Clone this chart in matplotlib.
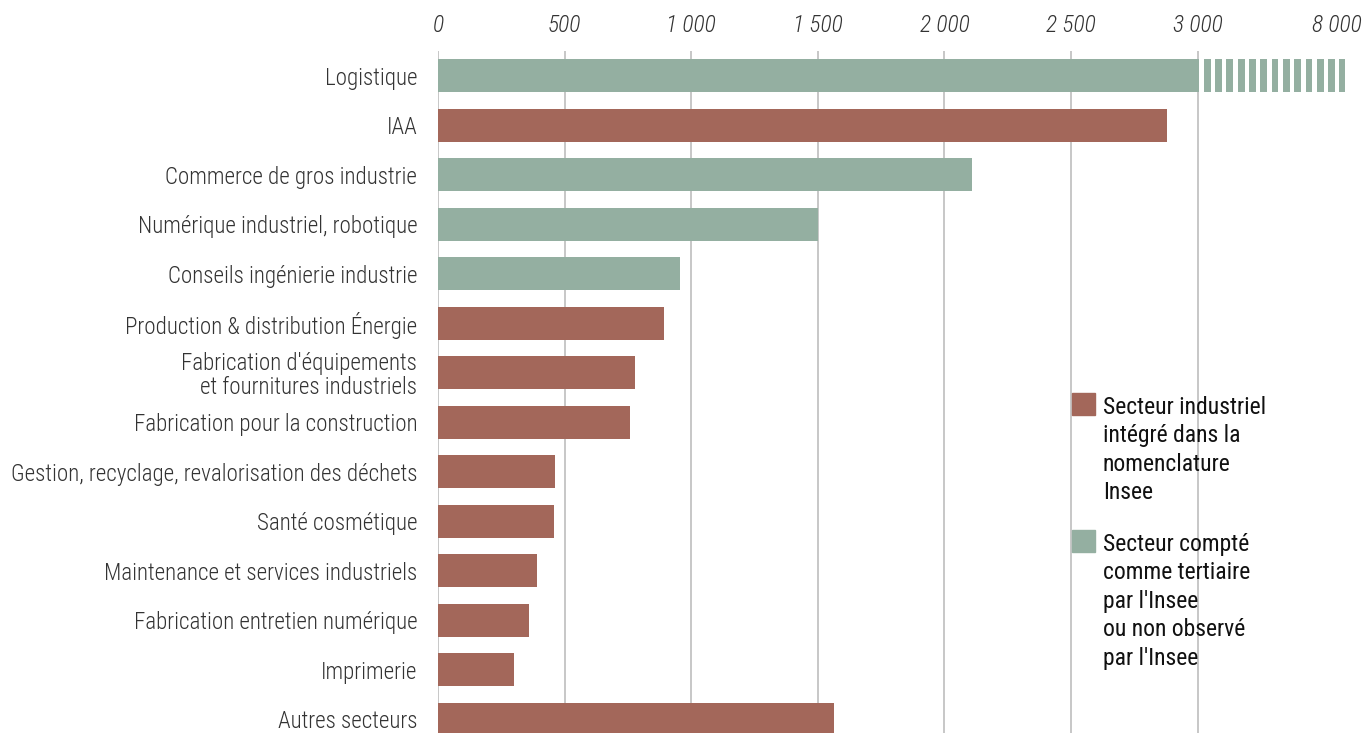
import matplotlib
matplotlib.use("Agg")
import matplotlib.pyplot as plt
from matplotlib.patches import Rectangle
import matplotlib.transforms as mtransforms
import numpy as np

# data
categories = [
    "Logistique",
    "IAA",
    "Commerce de gros industrie",
    "Numérique industriel, robotique",
    "Conseils ingénierie industrie",
    "Production & distribution Énergie",
    "Fabrication d'équipements\net fournitures industriels",
    "Fabrication pour la construction",
    "Gestion, recyclage, revalorisation des déchets",
    "Santé cosmétique",
    "Maintenance et services industriels",
    "Fabrication entretien numérique",
    "Imprimerie",
    "Autres secteurs",
]
values = [8000, 2880, 2110, 1500, 955, 892, 780, 757, 462, 460, 392, 360, 300, 1565]
is_industry = [False, True, False, False, False, True, True, True, True, True, True, True, True, True]
tick_values = [0, 500, 1000, 1500, 2000, 2500, 3000, 8000]
tick_labels = ["0", "500", "1 000", "1 500", "2 000", "2 500", "3 000", "8 000"]
legend_labels = ["Secteur industriel\nintégré dans la\nnomenclature\nInsee",
                 "Secteur compté\ncomme tertiaire\npar l'Insee\nou non observé\npar l'Insee"]

COL_IND = "#A3675A"
COL_TER = "#94AFA1"
FONT = ["Roboto Condensed", "Liberation Sans Narrow", "Roboto", "DejaVu Sans"]
plt.rcParams["font.family"] = FONT

BREAK = 3000
def pos(v):
    # broken axis: everything above 3000 is squeezed
    return v if v <= BREAK else BREAK + (v - BREAK) * 0.1164

W, H = 1370, 733
fig = plt.figure(figsize=(W / 100, H / 100), dpi=100)
ax = fig.add_axes([438 / W, -11 / H, 932 / W, 693 / H])

y = np.arange(len(categories))
colors = [COL_IND if f else COL_TER for f in is_industry]
bar_h = 0.67
for i, (v, c) in enumerate(zip(values, colors)):
    if v <= BREAK:
        ax.barh(i, v, height=bar_h, color=c, zorder=2)
    else:
        ax.barh(i, BREAK + 6, height=bar_h, color=c, zorder=2)
        # striped part after the break
        starts = np.arange(BREAK + 25, pos(v), 44.6)
        for s in starts:
            ax.barh(i, min(27, pos(v) - s), left=s, height=bar_h, color=c, zorder=2)

ax.set_xlim(0, 3681)
ax.set_ylim(len(categories) - 0.5, -0.5)

ax.set_xticks([pos(t) for t in tick_values])
ax.set_xticklabels(tick_labels, fontsize=17, fontstyle="italic", fontweight="light", color="#333333")
ax.xaxis.tick_top()
ax.tick_params(axis="x", length=0, pad=10)
# nudge the last label a bit to the left
lbl = ax.get_xticklabels()[-1]
lbl.set_transform(lbl.get_transform() + mtransforms.ScaledTranslation(-8 / 100, 0, fig.dpi_scale_trans))

ax.set_yticks(y)
ax.set_yticklabels(categories, fontsize=16.6, fontweight="light", color="#333333", linespacing=1.05)
ax.tick_params(axis="y", length=0, pad=15)

for t in tick_values[:-1]:
    ax.axvline(pos(t), color="#BDBDBD", lw=1.2, zorder=1)

for s in ax.spines.values():
    s.set_visible(False)

# legend drawn by hand
for (ty, col, lab) in [(393, COL_IND, legend_labels[0]), (530, COL_TER, legend_labels[1])]:
    fig.patches.append(Rectangle((1072 / W, 1 - (ty + 22) / H), 23 / W, 22 / H,
                                 color=col, transform=fig.transFigure, figure=fig))
    fig.text(1103 / W, 1 - (ty + 3) / H, lab, fontsize=17, color="#111111",
             va="top", ha="left", linespacing=1.3)

fig.savefig("out.png", dpi=100)
